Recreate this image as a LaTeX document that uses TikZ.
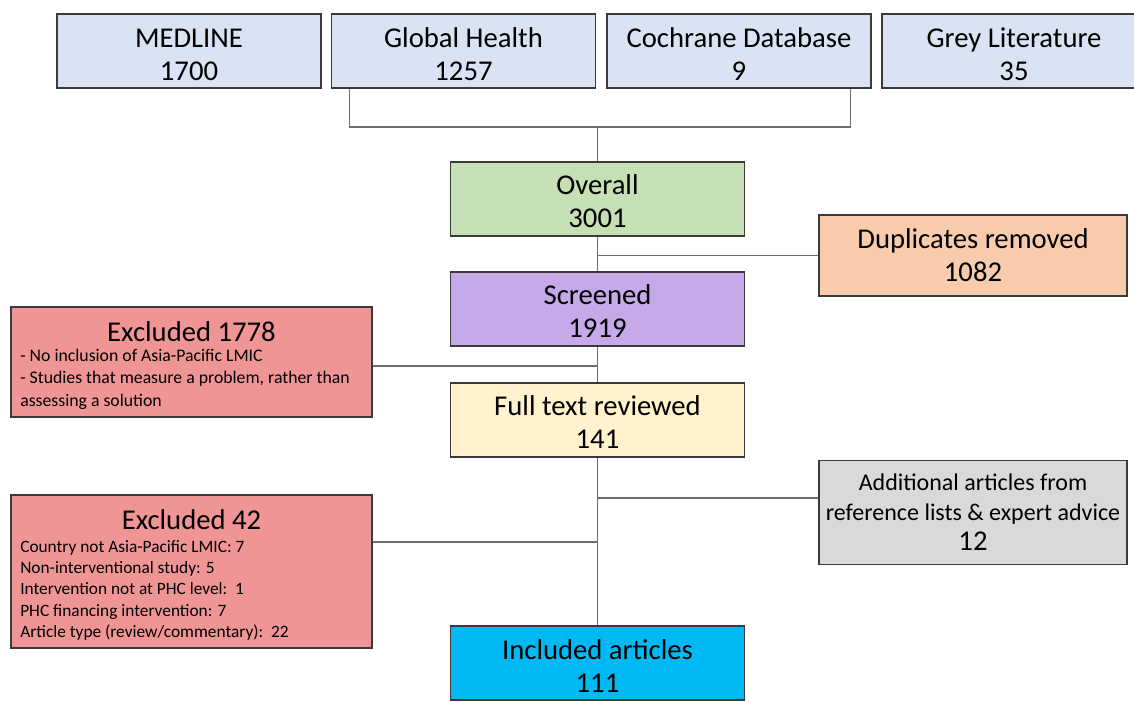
\documentclass[tikz,border=0pt]{standalone}
\usepackage{fontspec}
\setmainfont{Carlito}
\definecolor{srcblue}{HTML}{DAE3F3}
\definecolor{ovgreen}{HTML}{C5E0B4}
\definecolor{duporange}{HTML}{F8CBAD}
\definecolor{scrpurple}{HTML}{C5A9E8}
\definecolor{fullyellow}{HTML}{FFF2CC}
\definecolor{exred}{HTML}{EF9595}
\definecolor{addgray}{HTML}{D9D9D9}
\definecolor{incblue}{HTML}{00B9F2}
\definecolor{bordercol}{HTML}{3A3A3A}
\definecolor{conncol}{HTML}{6E6E6E}
\newcommand\bigfont{\fontsize{21.5}{24.75}\selectfont}
\newcommand\smallfont{\fontsize{13}{16}\selectfont}
\newcommand\smallfontb{\fontsize{13.3}{16}\selectfont}
\newcommand\lowtwo[3]{\raisebox{-#1}[\height][\depth]{\begin{tabular}{@{}c@{}}#2\\#3\end{tabular}}}
\tikzset{
  box/.style={draw=bordercol, line width=0.9pt, rectangle, inner sep=2pt, align=center, font=\bigfont},
  srcbox/.style={box, fill=srcblue, minimum width=198pt, minimum height=55.5pt},
  midbox/.style={box, minimum width=220.5pt, minimum height=55.5pt},
  sidebox/.style={box, minimum width=231pt},
  exbox/.style={box, fill=exred, minimum width=270.75pt},
  conn/.style={draw=conncol, line width=0.8pt},
  smalltext/.style={font=\smallfont, inner sep=0pt, anchor=base west},
  extitle/.style={font=\bigfont, inner sep=0pt, anchor=base},
}
\begin{document}
\begin{tikzpicture}[x=0.75pt, y=-0.75pt]
\useasboundingbox (0,0) rectangle (1134,701);

% source boxes
\node[srcbox] (med) at (189,51) {\lowtwo{4.6pt}{MEDLINE}{1700}};
\node[srcbox] (gh) at (463.5,51) {\lowtwo{4.6pt}{Global Health}{1257}};
\node[srcbox] (coch) at (739,51) {\lowtwo{4.6pt}{Cochrane Database}{9}};
\node[srcbox] (grey) at (1014,51) {\lowtwo{4.6pt}{Grey Literature}{35}};

% main column
\node[midbox, fill=ovgreen] (overall) at (597.5,199) {\lowtwo{4.3pt}{Overall}{3001}};
\node[midbox, fill=scrpurple] (scr) at (597.5,309) {\lowtwo{4.4pt}{Screened}{1919}};
\node[midbox, fill=fullyellow] (full) at (597.5,420) {\lowtwo{4.4pt}{Full text reviewed}{141}};
\node[midbox, fill=incblue] (inc) at (597.5,663) {\lowtwo{4.6pt}{Included articles}{111}};

% right side
\node[sidebox, fill=duporange, minimum height=60.75pt] (dup) at (973,255.5) {\lowtwo{2pt}{Duplicates removed}{1082}};
\node[sidebox, fill=addgray, minimum height=78pt, font=\fontsize{18}{22.5}\selectfont] (add) at (973,512.5)
  {Additional articles from\\reference lists \& expert advice\\\fontsize{21.5}{22.5}\selectfont 12};

% left side
\node[exbox, minimum height=82.5pt] (ex1) at (191.5,362) {};
\node[extitle] (ex1t) at (191.5,341) {Excluded 1778};
\node[smalltext, font=\smallfontb] (ex1a) at (20,361) {- No inclusion of Asia-Pacific LMIC};
\node[smalltext, font=\smallfontb] (ex1b) at (20,383.5) {- Studies that measure a problem, rather than};
\node[smalltext, font=\smallfontb] (ex1c) at (20,406) {assessing a solution};

\node[exbox, minimum height=114.75pt] (ex2) at (191.5,571.5) {};
\node[extitle] (ex2t) at (191.5,529) {Excluded 42};
\node[smalltext] (ex2a) at (20,552.5) {Country not Asia-Pacific LMIC: 7};
\node[smalltext] (ex2b) at (20,573.7) {Non-interventional study: 5};
\node[smalltext] (ex2c) at (20,594.9) {Intervention not at PHC level:\ \ 1};
\node[smalltext] (ex2d) at (20,616.1) {PHC financing intervention: 7};
\node[smalltext] (ex2e) at (20,637.3) {Article type (review/commentary):\ \ 22};

% connectors
\coordinate (jt) at (597.5,127);
\draw[conn] ([xshift=14.25pt]gh.south west) |- (jt) -| ([xshift=-15.75pt]coch.south east);
\draw[conn] (jt) -- (overall.north);
\draw[conn] (overall.south) -- (scr.north);
\draw[conn] (scr.south) -- (full.north);
\draw[conn] (full.south) -- (inc.north);
\draw[conn] (dup.west) -- (dup.west -| overall.south);
\coordinate (j2) at (597.5,366);
\draw[conn] (j2 -| ex1.east) -- (j2);
\coordinate (j4) at (597.5,498);
\draw[conn] (j4) -- (j4 -| add.west);
\coordinate (j5) at (597.5,542);
\draw[conn] (j5 -| ex2.east) -- (j5);
\end{tikzpicture}
\end{document}
